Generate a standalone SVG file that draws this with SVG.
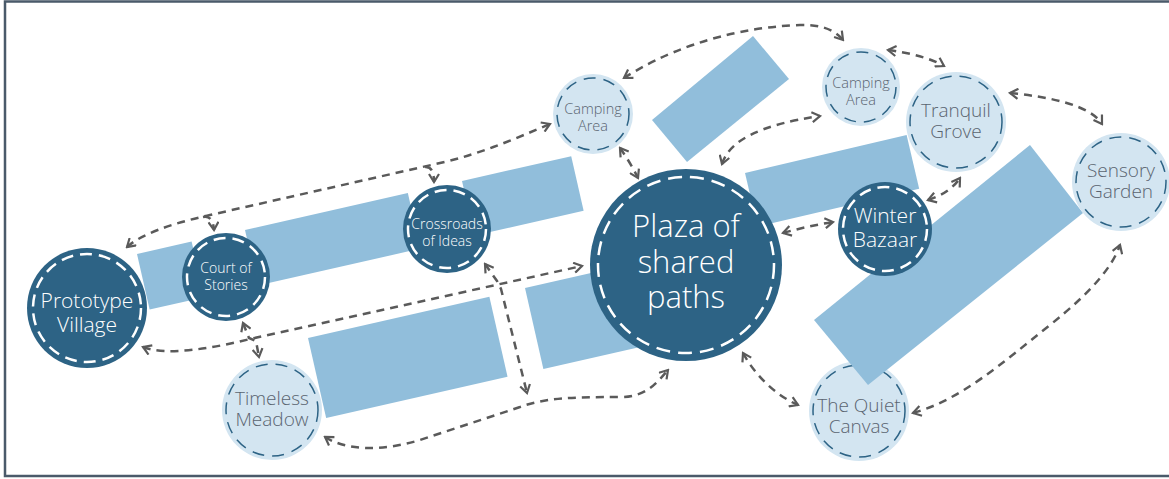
<svg xmlns="http://www.w3.org/2000/svg" width="1169" height="479" viewBox="0 0 1169 479">
<defs>
<style>
.band{fill:#91bedb}
.dk{fill:#2d6385}
.dkd{fill:none;stroke:#ffffff;stroke-width:2.5;stroke-dasharray:12 7}
.lt{fill:#d3e5f1}
.ltd{fill:none;stroke:#2d6385;stroke-width:1.5;stroke-dasharray:12 8}
.tw{fill:#ffffff;font-family:"Open Sans","Liberation Sans",sans-serif;font-weight:300;text-anchor:middle}
.tg{fill:#5a6470;font-family:"Open Sans","Liberation Sans",sans-serif;font-weight:300;text-anchor:middle}
.e{fill:none;stroke:#5a5a5a;stroke-width:2.5;stroke-dasharray:8 6;marker-start:url(#ah);marker-end:url(#ah)}
.s{fill:none;stroke:#5a5a5a;stroke-width:2.5;stroke-dasharray:8 6;marker-end:url(#ah)}
</style>
<marker id="ah" viewBox="0 0 12 12" refX="10" refY="6" markerWidth="12" markerHeight="12" markerUnits="userSpaceOnUse" orient="auto-start-reverse">
<path d="M2,1 L10,6 L2,11" fill="none" stroke="#5a5a5a" stroke-width="2.2"/>
</marker>
</defs>
<rect x="5" y="1.5" width="1170" height="474.5" fill="#ffffff" stroke="#4a5a6a" stroke-width="2.5"/>
<g id="bands">
<rect class="band" x="137" y="254" width="56" height="57" transform="rotate(-12.8 137 254)"/>
<rect class="band" x="245" y="230" width="167" height="57" transform="rotate(-12.8 245 230)"/>
<rect class="band" x="462" y="181" width="112" height="56" transform="rotate(-12.8 462 181)"/>
<rect class="band" x="308" y="338" width="186" height="82" transform="rotate(-12.8 308 338)"/>
<rect class="band" x="525" y="288" width="160" height="83" transform="rotate(-12.8 525 288)"/>
<rect class="band" x="745" y="173" width="166" height="55" transform="rotate(-13.2 745 173)"/>
<polygon class="band" points="753,36 789,79 687,162 652,120"/>
</g>
<g id="connectors">
<path class="e" d="M127,247 Q147,229 210,215 L440,163 C480,154 512,140 550,124"/>
<path class="s" d="M203,217 Q213,215 214,230"/>
<path class="s" d="M425,167 Q434,166 434,182"/>
<path class="e" d="M143,347 C165,356 210,349 250,339 L582,266"/>
<path class="e" d="M243,323 L249,338 L256,341 L259,357"/>
<path class="e" d="M485,264 L497,281 L501,289 L527,393"/>
<path class="e" d="M325,437 C345,450 380,452 420,440 L520,407 C545,398 570,397 620,397 C645,397 655,385 668,370"/>
<path class="e" d="M620,148 Q630,162 638,178"/>
<path class="e" d="M624,78 C660,55 720,28 800,25 Q830,24 843,40"/>
<path class="e" d="M722,164 C730,140 760,125 820,116"/>
<path class="e" d="M888,50 Q925,55 944,66"/>
<path class="e" d="M1010,93 C1050,97 1090,105 1102,124"/>
<path class="e" d="M783,233 Q808,226 833,222"/>
<path class="e" d="M928,200 Q950,193 960,178"/>
<path class="e" d="M743,353 C755,375 775,395 798,405"/>
<path class="e" d="M913,413 C960,400 1000,365 1050,325 C1090,293 1112,268 1120,245"/>
</g>
<g id="quiet-canvas">
<circle class="lt" cx="859" cy="411" r="50"/>
<circle class="ltd" cx="859" cy="411" r="46"/>
<text class="tg" font-size="19"><tspan x="859" y="412">The Quiet</tspan><tspan x="859" y="433">Canvas</tspan></text>
</g>
<polygon id="band-diagonal" class="band" points="1030,145 1083,213 868,385 814,320"/>
<g id="prototype-village">
<circle class="dk" cx="87" cy="308" r="60"/>
<circle class="dkd" cx="87" cy="308" r="54"/>
<text class="tw" font-size="21"><tspan x="87" y="308">Prototype</tspan><tspan x="87" y="332">Village</tspan></text>
</g>
<g id="court-of-stories">
<circle class="dk" cx="226" cy="277" r="44"/>
<circle class="dkd" cx="226" cy="277" r="39"/>
<text class="tw" font-size="14"><tspan x="226" y="273">Court of</tspan><tspan x="226" y="290">Stories</tspan></text>
</g>
<g id="crossroads-of-ideas">
<circle class="dk" cx="447" cy="229" r="44"/>
<circle class="dkd" cx="447" cy="229" r="39"/>
<text class="tw" font-size="14"><tspan x="447" y="229">Crossroads</tspan><tspan x="447" y="246">of Ideas</tspan></text>
</g>
<g id="plaza">
<circle class="dk" cx="686" cy="265" r="96"/>
<circle class="dkd" cx="686" cy="265" r="88" style="stroke-dasharray:14 8"/>
<text class="tw" font-size="31"><tspan x="686" y="237">Plaza of</tspan><tspan x="686" y="273">shared</tspan><tspan x="686" y="308">paths</tspan></text>
</g>
<g id="camping-area-1">
<circle class="lt" cx="593" cy="114" r="40"/>
<circle class="ltd" cx="593" cy="114" r="36"/>
<text class="tg" font-size="14.5"><tspan x="593" y="114">Camping</tspan><tspan x="593" y="131">Area</tspan></text>
</g>
<g id="camping-area-2">
<circle class="lt" cx="861" cy="87" r="39"/>
<circle class="ltd" cx="861" cy="87" r="35"/>
<text class="tg" font-size="14.5"><tspan x="861" y="88">Camping</tspan><tspan x="861" y="105">Area</tspan></text>
</g>
<g id="tranquil-grove">
<circle class="lt" cx="956" cy="122" r="50"/>
<circle class="ltd" cx="956" cy="122" r="46"/>
<text class="tg" font-size="19"><tspan x="956" y="117">Tranquil</tspan><tspan x="956" y="138">Grove</tspan></text>
</g>
<g id="sensory-garden">
<circle class="lt" cx="1121" cy="182" r="49"/>
<circle class="ltd" cx="1121" cy="182" r="45"/>
<text class="tg" font-size="19"><tspan x="1121" y="177">Sensory</tspan><tspan x="1121" y="198">Garden</tspan></text>
</g>
<g id="winter-bazaar">
<circle class="dk" cx="885" cy="229" r="47"/>
<circle class="dkd" cx="885" cy="229" r="42"/>
<text class="tw" font-size="21"><tspan x="885" y="223">Winter</tspan><tspan x="885" y="247">Bazaar</tspan></text>
</g>
<g id="timeless-meadow">
<circle class="lt" cx="272" cy="410" r="50"/>
<circle class="ltd" cx="272" cy="410" r="46"/>
<text class="tg" font-size="19"><tspan x="272" y="405">Timeless</tspan><tspan x="272" y="426">Meadow</tspan></text>
</g>
</svg>
